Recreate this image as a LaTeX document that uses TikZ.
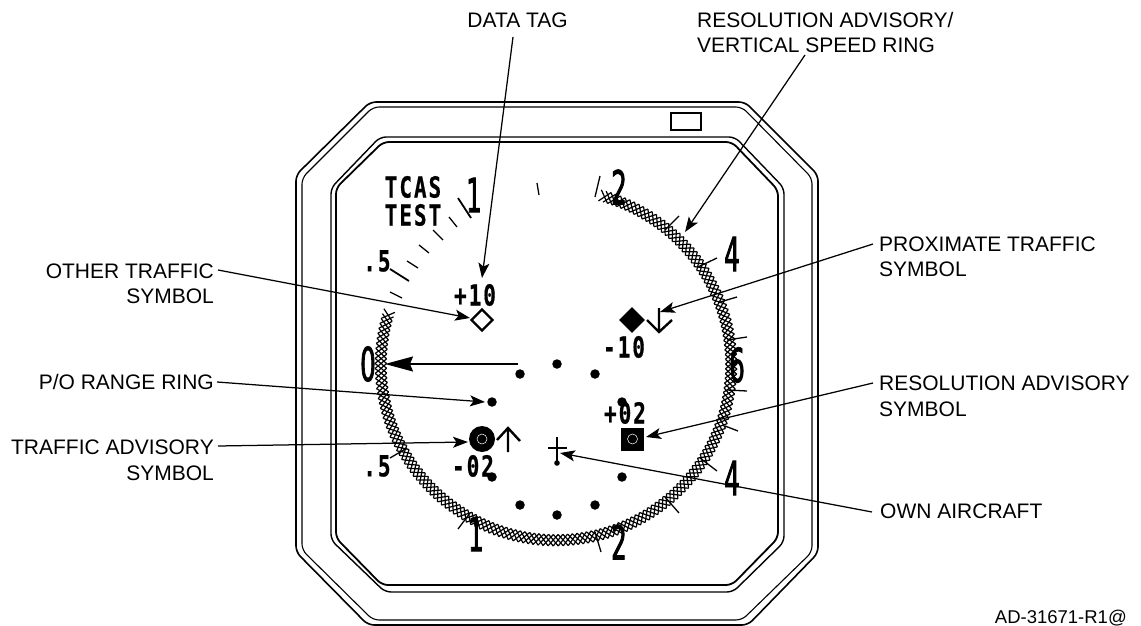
\documentclass[tikz,border=0pt]{standalone}
\usepackage{fontspec}
\setmainfont{Liberation Sans}
\newfontfamily\bigdigit[FakeStretch=0.52,FakeBold=1.6]{DejaVu Sans}
\newfontfamily\smalldigit[FakeStretch=0.72,LetterSpace=7,FakeBold=0.6]{DejaVu Sans Mono}
\usetikzlibrary{arrows.meta,shapes.geometric}
\tikzset{
  lab/.style={font=\fontsize{21}{21}\selectfont,inner sep=0pt,text=black},
  labL/.style={lab,anchor=west},
  labR/.style={lab,anchor=east},
  leader/.style={line width=1.25pt,-{Stealth[length=15pt,width=11pt,inset=3.5pt]}},
  big/.style={font=\bigdigit\fontsize{47}{47}\selectfont,inner sep=0pt},
  small/.style={font=\smalldigit\bfseries\fontsize{29}{29}\selectfont,inner sep=0pt},
  dot/.style={circle,fill=black,inner sep=0pt,minimum size=9.5pt},
  tick/.style={line width=1.3pt},
  frame/.style={rounded corners=6pt},
}
\begin{document}
\begin{tikzpicture}[x=1pt,y=-1pt]
\useasboundingbox (0,0) rectangle (1141,626);
% bezel
\draw[frame,line width=1.6pt] (296,175)--(370,102)--(745,102)--(818,175)--(818,553)--(748,625)--(368,625)--(296,552)--cycle;
\draw[frame,line width=1.1pt] (302,178)--(373,107)--(742,107)--(812,178)--(812,552)--(742,620)--(373,620)--(302,550)--cycle;
\draw[frame,line width=1.4pt] (331,188)--(380,137)--(735,137)--(784,188)--(784,542)--(733,592)--(385,592)--(331,540)--cycle;
\draw[frame,line width=1.8pt] (336,188)--(383,142)--(732,142)--(778,190)--(778,538)--(732,585)--(382,585)--(336,538)--cycle;
\draw[line width=1.5pt] (671,113) rectangle (701,130);
% ticks
\draw[tick] (449,217)--(457,227) (433,230)--(443,240) (419,245)--(429,253) (407,261)--(418,268) (390,292)--(402,298) (537,183)--(539,195);
\draw[tick,line width=1.8pt] (458,198)--(471,218) (390,269)--(409,281);
\draw[tick] (595,197)--(600,176) (665,230)--(679,216) (698,267)--(717,258) (720,302)--(737,297) (727,340)--(747,337)
 (727,390)--(747,391) (725,426)--(738,431) (700,458)--(717,471) (665,497)--(679,513) (595,532)--(601,552) (458,529)--(470,513) (390,458)--(407,448);
% scale numbers
\node[big] (n1a) at (474,195) {1};
\node[big] (n2a) at (619,187) {2};
\node[big] (n4a) at (732,254) {4};
\node[big] (n6) at (737,365) {6};
\node[big] (n4b) at (732,478) {4};
\node[big] (n2b) at (619,542) {2};
\node[big] (n1b) at (476,534) {1};
\node[big] (n0) at (368,364) {0};
\node[small] (h5a) at (377,261) {.5};
\node[small] (h5b) at (377,466) {.5};
\node[small] (tcas) at (413,187) {TCAS};
\node[small] (test) at (413,215) {TEST};
\node[small] (p10) at (475,295) {+10};
\node[small] (m10) at (624,347) {-10};
\node[small] (p02) at (625,413) {+02};
\node[small] (m02) at (473,466) {-02};
% ring
\begin{scope}[shift={(556,365)},line width=1.2pt]
\foreach \a in {-75.5,-73.9,...,195}{
  \draw (\a:169.5)--(\a+3.2:181) (\a+3.2:169.5)--(\a:181);
}
\end{scope}
% range dots
\foreach \n/\x/\y in {d1/557/364,d2/520/374,d3/595/374,d4/492/402,d5/622/402,d6/492/477,d7/622/477,d8/520/505,d9/595/505,d10/557/515}{
  \node[dot] (\n) at (\x,\y) {};
}
% traffic symbols
\node[diamond,draw,line width=2.4pt,inner sep=0pt,minimum size=22pt,fill=white] (other) at (482,320) {};
\node[diamond,fill=black,inner sep=0pt,minimum size=26pt] (prox) at (632,320) {};
\draw[line width=2.4pt] (659,308)--(659,331) (647,320)--(659,332)--(672,320);
\node[circle,fill=black,inner sep=0pt,minimum size=26pt] (ta) at (482,439) {};
\draw[white,line width=.5pt] (ta.center) circle (5);
\draw[line width=2.4pt] (508,452)--(508,428) (497,440)--(508,428)--(520,441);
\node[rectangle,fill=black,inner sep=0pt,minimum size=23pt] (ra) at (632.5,439) {};
\draw[white,line width=.5pt] (ra.center) circle (5);
\draw[line width=2.6pt] (557,437)--(557,465) (548,448)--(567,448);
\fill (557,463) circle (2.8);
% centre arrow
\coordinate (cs) at (518,364);
\coordinate (ct) at (385,364);
\draw[line width=1.4pt,-{Stealth[length=28pt,width=15pt,inset=3pt]}] (cs)--(ct);
% labels
\node[labR] (ldt) at (568,20) {DATA TAG};
\node[labL] (lra1) at (697,20) {RESOLUTION ADVISORY/};
\node[labL] (lra2) at (697,45) {VERTICAL SPEED RING};
\node[labL] (lp1) at (879,244) {PROXIMATE TRAFFIC};
\node[labL] (lp2) at (879,269) {SYMBOL};
\node[labL] (lr1) at (879,383) {RESOLUTION ADVISORY};
\node[labL] (lr2) at (879,409) {SYMBOL};
\node[labL] (low) at (880,511) {OWN AIRCRAFT};
\node[labR] (lo1) at (214,271) {OTHER TRAFFIC};
\node[labR] (lo2) at (214,296) {SYMBOL};
\node[labR] (lpo) at (214,382) {P/O RANGE RING};
\node[labR] (lt1) at (214,447) {TRAFFIC ADVISORY};
\node[labR] (lt2) at (214,473) {SYMBOL};
\node[lab,anchor=east,font=\fontsize{18.5}{18.5}\selectfont] (ad) at (1127,618) {AD-31671-R1@};
% leader ends
\coordinate (sdt) at (513,37);
\coordinate (tdt) at (482,278);
\coordinate (svs) at (805,55);
\coordinate (tvs) at (685,232);
\coordinate (spr) at (873,244);
\coordinate (tpr) at (660,312);
\coordinate (sra) at (873,383);
\coordinate (tra) at (646,437);
\coordinate (sow) at (872,512);
\coordinate (tow) at (560,453);
\coordinate (sot) at (218,270);
\coordinate (tot) at (470,318);
\coordinate (spo) at (217,382);
\coordinate (tpo) at (485,402);
\coordinate (sta) at (218,446);
\coordinate (tta) at (468,442);
\draw[leader] (sdt)--(tdt);
\draw[leader] (svs)--(tvs);
\draw[leader] (spr)--(tpr);
\draw[leader] (sra)--(tra);
\draw[leader] (sow)--(tow);
\draw[leader] (sot)--(tot);
\draw[leader] (spo)--(tpo);
\draw[leader] (sta)--(tta);
\end{tikzpicture}
\end{document}
